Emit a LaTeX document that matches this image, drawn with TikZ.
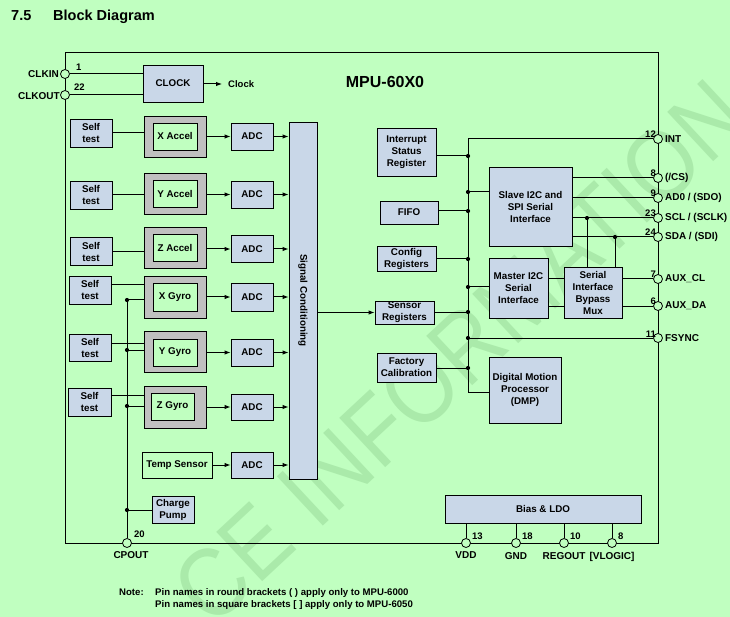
\documentclass[tikz,border=0pt]{standalone}
\usepackage{fontspec}
\usepackage{graphicx}
\setmainfont{Liberation Sans}
\usetikzlibrary{arrows.meta}
\definecolor{bgc}{RGB}{192,255,192}
\definecolor{boxc}{RGB}{201,215,232}
\definecolor{grayc}{RGB}{192,192,192}
\definecolor{wmc}{RGB}{170,234,170}
\begin{document}
\begin{tikzpicture}[x=1pt,y=-1pt,
  every node/.style={font=\bfseries\fontsize{9.8}{12}\selectfont},
  blk/.style={draw, fill=boxc, line width=0.9pt, align=center, inner sep=0pt},
  plain/.style={draw, fill=none, line width=0.9pt, align=center, inner sep=0pt},
  outer/.style={draw, fill=grayc, line width=0.9pt, minimum width=62pt, minimum height=41pt, inner sep=0pt},
  inner/.style={draw, fill=bgc, line width=0.9pt, minimum width=44pt, minimum height=27pt, inner sep=0pt},
  selft/.style={blk, minimum width=42pt, minimum height=28pt},
  adc/.style={blk, minimum width=42pt, minimum height=27pt},
  pinc/.style={circle, draw, fill=bgc, minimum size=9pt, inner sep=0pt, line width=0.8pt},
  dot/.style={circle, fill=black, minimum size=4.2pt, inner sep=0pt},
  num/.style={font=\bfseries\fontsize{9.5}{11}\selectfont, inner sep=0pt},
  lbl/.style={font=\bfseries\fontsize{10}{12}\selectfont, inner sep=0pt},
  wire/.style={line width=1pt},
  arr/.style={line width=1pt, -{Latex[length=6pt,width=4.5pt]}},
]
\fill[bgc] (0,0) rectangle (730,617);
\useasboundingbox (0,0) rectangle (730,617);

% watermark
\node[font=\mdseries\fontsize{98}{98}\selectfont, text=wmc, rotate=43, inner sep=0pt] (wm) at (460,352) {\scalebox{0.88}[1]{CE INFORMATION}};

% title
\node[font=\bfseries\fontsize{14.5}{16}\selectfont, anchor=base west, inner sep=0pt] (sec) at (11,21) {7.5};
\node[font=\bfseries\fontsize{14.5}{16}\selectfont, anchor=base west, inner sep=0pt] (title) at (53,21) {Block Diagram};

% frame
\node[draw, line width=1pt, minimum width=593pt, minimum height=490pt, inner sep=0pt] (frame) at (361.5,298) {};
\node[font=\bfseries\fontsize{16}{18}\selectfont, anchor=base, inner sep=0pt] (mpu) at (385,88) {MPU-60X0};

% clock
\node[blk, minimum width=60pt, minimum height=37pt] (clock) at (173,83.5) {CLOCK};
\node[pinc] (pclkin) at (65,74) {};
\node[pinc] (pclkout) at (65,95) {};
\node[lbl, anchor=east] (lclkin) at (59,74) {CLKIN};
\node[lbl, anchor=east] (lclkout) at (60,96) {CLKOUT};
\node[num, anchor=base west] (n1) at (76,71) {1};
\node[num, anchor=base west] (n22) at (74,91) {22};
\draw[wire] (pclkin.east) -- (pclkin.east -| clock.west);
\draw[wire] (pclkout.east) -- (pclkout.east -| clock.west);
\coordinate (clkend) at (222,84);
\draw[arr] (clock.east |- clkend) -- (clkend);
\node[anchor=west, inner sep=0pt, font=\bfseries\fontsize{9.5}{11}\selectfont] (clktxt) at (228,84) {Clock};

% accelerometers
\node[selft] (stxa) at (91,133) {Self\\test};
\node[outer] (gxa) at (175,136.5) {};
\node[inner] (ixa) at (175,136.5) {X Accel};
\node[adc] (adc1) at (252,136.5) {ADC};
\node[selft] (stya) at (91,195) {Self\\test};
\node[outer] (gya) at (175,193.5) {};
\node[inner] (iya) at (175,193.5) {Y Accel};
\node[adc] (adc2) at (252,194.5) {ADC};
\node[selft] (stza) at (91,251.5) {Self\\test};
\node[outer] (gza) at (175,247.5) {};
\node[inner] (iza) at (175,247.5) {Z Accel};
\node[adc] (adc3) at (252,249) {ADC};
\draw[wire] (stxa.east) -- (stxa.east -| gxa.west);
\draw[wire] (stya.east) -- (stya.east -| gya.west);
\draw[wire] (stza.east) -- (stza.east -| gza.west);

% gyros
\node[selft] (stxg) at (90,290) {Self\\test};
\node[outer, minimum height=42pt] (gxg) at (175,297) {};
\node[inner, minimum height=28pt] (ixg) at (175,297) {X Gyro};
\node[adc, minimum height=28pt] (adc4) at (252,297) {ADC};
\node[selft, minimum height=27pt] (styg) at (90,347.5) {Self\\test};
\node[outer] (gyg) at (175,351.5) {};
\node[inner] (iyg) at (175,352.5) {Y Gyro};
\node[adc] (adc5) at (252,352.5) {ADC};
\node[selft, minimum width=43pt] (stzg) at (89.5,402) {Self\\test};
\node[outer, minimum height=42pt] (gzg) at (175,407) {};
\node[inner, minimum width=43pt] (izg) at (172.5,406.5) {Z Gyro};
\node[adc, minimum height=26pt] (adc6) at (252,407) {ADC};
\draw[wire] (stxg.east |- 0,285) -- (gxg.west |- 0,285);
\draw[wire] (styg.east |- 0,343) -- (gyg.west |- 0,343);
\draw[wire] (stzg.east |- 0,395) -- (gzg.west |- 0,395);

% temp and charge pump
\node[plain, minimum width=70pt, minimum height=26pt] (temp) at (177,465) {Temp Sensor};
\node[adc, minimum height=26pt] (adc7) at (252,465) {ADC};
\node[blk, minimum width=42pt, minimum height=27pt] (charge) at (173,509.5) {Charge\\Pump};

% sensor arrows
\draw[arr] (gxa.east) -- (adc1.west);
\draw[arr] (gya.east |- adc2.west) -- (adc2.west);
\draw[arr] (gza.east |- adc3.west) -- (adc3.west);
\draw[arr] (gxg.east) -- (adc4.west);
\draw[arr] (gyg.east |- adc5.west) -- (adc5.west);
\draw[arr] (gzg.east) -- (adc6.west);
\draw[arr] (temp.east) -- (adc7.west);

% signal conditioning
\node[blk, minimum width=28pt, minimum height=357pt] (sig) at (303,300.5) {};
\node[rotate=-90, inner sep=0pt] (sigtxt) at (sig.center) {Signal Conditioning};
\foreach \a in {adc1,adc2,adc3,adc4,adc5,adc6,adc7}{
  \draw[arr] (\a.east) -- (\a.east -| sig.west);
}

% charge pump bus
\node[pinc] (pcp) at (127,543) {};
\node[dot] (dg1) at (127,300) {};
\node[dot] (dg2) at (127,350) {};
\node[dot] (dg3) at (127,406) {};
\node[dot] (dg4) at (127,510) {};
\draw[wire] (dg1.center) -- (pcp.north);
\draw[wire] (dg1.center) -- (gxg.west |- dg1);
\draw[wire] (dg2.center) -- (gyg.west |- dg2);
\draw[wire] (dg3.center) -- (gzg.west |- dg3);
\draw[wire] (dg4.center) -- (charge.west |- dg4);
\node[num, anchor=base west] (n20) at (134,537) {20};
\node[lbl, anchor=north] (lcp) at (131,551) {CPOUT};

% registers
\node[blk, minimum width=59pt, minimum height=48pt] (isr) at (406.5,152) {Interrupt\\Status\\Register};
\node[blk, minimum width=58pt, minimum height=23pt] (fifo) at (409,212.5) {FIFO};
\node[blk, minimum width=59pt, minimum height=25pt] (cfg) at (406.5,258.5) {Config\\Registers};
\node[blk, minimum width=59pt, minimum height=23pt] (sens) at (404.5,312.5) {Sensor\\Registers};
\node[blk, minimum width=59pt, minimum height=29pt] (fact) at (406.5,367.5) {Factory\\Calibration};
\draw[arr] (sig.east |- sens.west) -- (sens.west);

\node[blk, minimum width=83pt, minimum height=79pt] (slave) at (530.5,206.5) {Slave I2C and\\SPI Serial\\Interface};
\node[blk, minimum width=59pt, minimum height=60pt] (master) at (518.5,288) {Master I2C\\Serial\\Interface};
\node[blk, minimum width=58pt, minimum height=51pt] (mux) at (593,292.5) {Serial\\Interface\\Bypass\\Mux};
\node[blk, minimum width=72pt, minimum height=66pt] (dmp) at (525,390) {Digital Motion\\Processor\\(DMP)};
\node[blk, minimum width=196pt, minimum height=28pt] (bias) at (543,509) {Bias \& LDO};

% right pins
\node[pinc] (pint) at (658,139) {};
\node[pinc] (pcs) at (658,178) {};
\node[pinc] (pad0) at (658,198) {};
\node[pinc] (pscl) at (658,218) {};
\node[pinc] (psda) at (658,237) {};
\node[pinc] (pauxcl) at (658,279) {};
\node[pinc] (pauxda) at (658,306) {};
\node[pinc] (pfsync) at (658,338) {};
\foreach \p/\n in {pint/12,pcs/8,pad0/9,pscl/23,psda/24,pauxcl/7,pauxda/6,pfsync/11}{
  \node[num, anchor=base east] (n\p) at ([xshift=-2pt,yshift=1pt]\p.center) {\n};
}
\node[lbl, anchor=west] (lint) at ([xshift=2pt]pint.east) {INT};
\node[lbl, anchor=west] (lcs) at ([xshift=2pt]pcs.east) {(/CS)};
\node[lbl, anchor=west] (lad0) at ([xshift=2pt]pad0.east) {AD0 / (SDO)};
\node[lbl, anchor=west] (lscl) at ([xshift=2pt]pscl.east) {SCL / (SCLK)};
\node[lbl, anchor=west] (lsda) at ([xshift=2pt]psda.east) {SDA / (SDI)};
\node[lbl, anchor=west] (lauxcl) at ([xshift=2pt]pauxcl.east) {AUX\_CL};
\node[lbl, anchor=west] (lauxda) at ([xshift=2pt]pauxda.east) {AUX\_DA};
\node[lbl, anchor=west] (lfsync) at ([xshift=2pt]pfsync.east) {FSYNC};

% internal bus
\coordinate (bustop) at (468,139);
\coordinate (busbot) at (468,392);
\node[dot] (b1) at (468,156) {};
\node[dot] (b2) at (468,192) {};
\node[dot] (b3) at (468,211) {};
\node[dot] (b4) at (468,259) {};
\node[dot] (b5) at (468,287) {};
\node[dot] (b6) at (468,312) {};
\node[dot] (b7) at (468,338) {};
\node[dot] (b8) at (468,368) {};
\draw[wire] (pint.west) -- (bustop) -- (busbot) -- (dmp.west |- busbot);
\draw[wire] (isr.east |- b1) -- (b1.center);
\draw[wire] (b2.center) -- (slave.west |- b2);
\draw[wire] (fifo.east |- b3) -- (b3.center);
\draw[wire] (cfg.east |- b4) -- (b4.center);
\draw[wire] (b5.center) -- (master.west |- b5);
\draw[wire] (sens.east |- b6) -- (b6.center);
\draw[wire] (b7.center) -- (pfsync.west);
\draw[wire] (fact.east |- b8) -- (b8.center);

% slave / master / mux wiring
\draw[wire] (slave.east |- pcs) -- (pcs.west);
\draw[wire] (slave.east |- pad0) -- (pad0.west);
\draw[wire] (slave.east |- pscl) -- (pscl.west);
\draw[wire] (slave.east |- psda) -- (psda.west);
\node[dot] (ds1) at (587,218) {};
\node[dot] (ds2) at (615,237) {};
\draw[wire] (ds1.center) -- (ds1.center |- mux.north);
\draw[wire] (ds2.center) -- (ds2.center |- mux.north);
\draw[wire] (master.east |- pauxcl) -- (mux.west |- pauxcl);
\draw[wire] (master.east |- pauxda) -- (mux.west |- pauxda);
\draw[wire] (mux.east |- pauxcl) -- (pauxcl.west);
\draw[wire] (mux.east |- pauxda) -- (pauxda.west);

% bottom pins
\node[pinc] (pvdd) at (466,543) {};
\node[pinc] (pgnd) at (516,543) {};
\node[pinc] (preg) at (564,543) {};
\node[pinc] (pvlog) at (612,543) {};
\foreach \p/\n/\l in {pvdd/13/VDD,pgnd/18/GND,preg/10/REGOUT,pvlog/8/[VLOGIC]}{
  \draw[wire] (bias.south -| \p) -- (\p.north);
  \node[num, anchor=base west] (n\p) at ([xshift=6pt,yshift=4pt]\p.center) {\n};
  \node[lbl, anchor=north] (l\p) at ([yshift=-4pt]\p.south) {\l};
}

% note
\node[font=\bfseries\fontsize{9.6}{12}\selectfont, anchor=base west, inner sep=0pt] (note) at (119,595) {Note:};
\node[font=\bfseries\fontsize{9.6}{12}\selectfont, anchor=base west, inner sep=0pt] (note1) at (155,595) {Pin names in round brackets ( ) apply only to MPU-6000};
\node[font=\bfseries\fontsize{9.6}{12}\selectfont, anchor=base west, inner sep=0pt] (note2) at (155,607) {Pin names in square brackets [ ] apply only to MPU-6050};
\end{tikzpicture}
\end{document}
